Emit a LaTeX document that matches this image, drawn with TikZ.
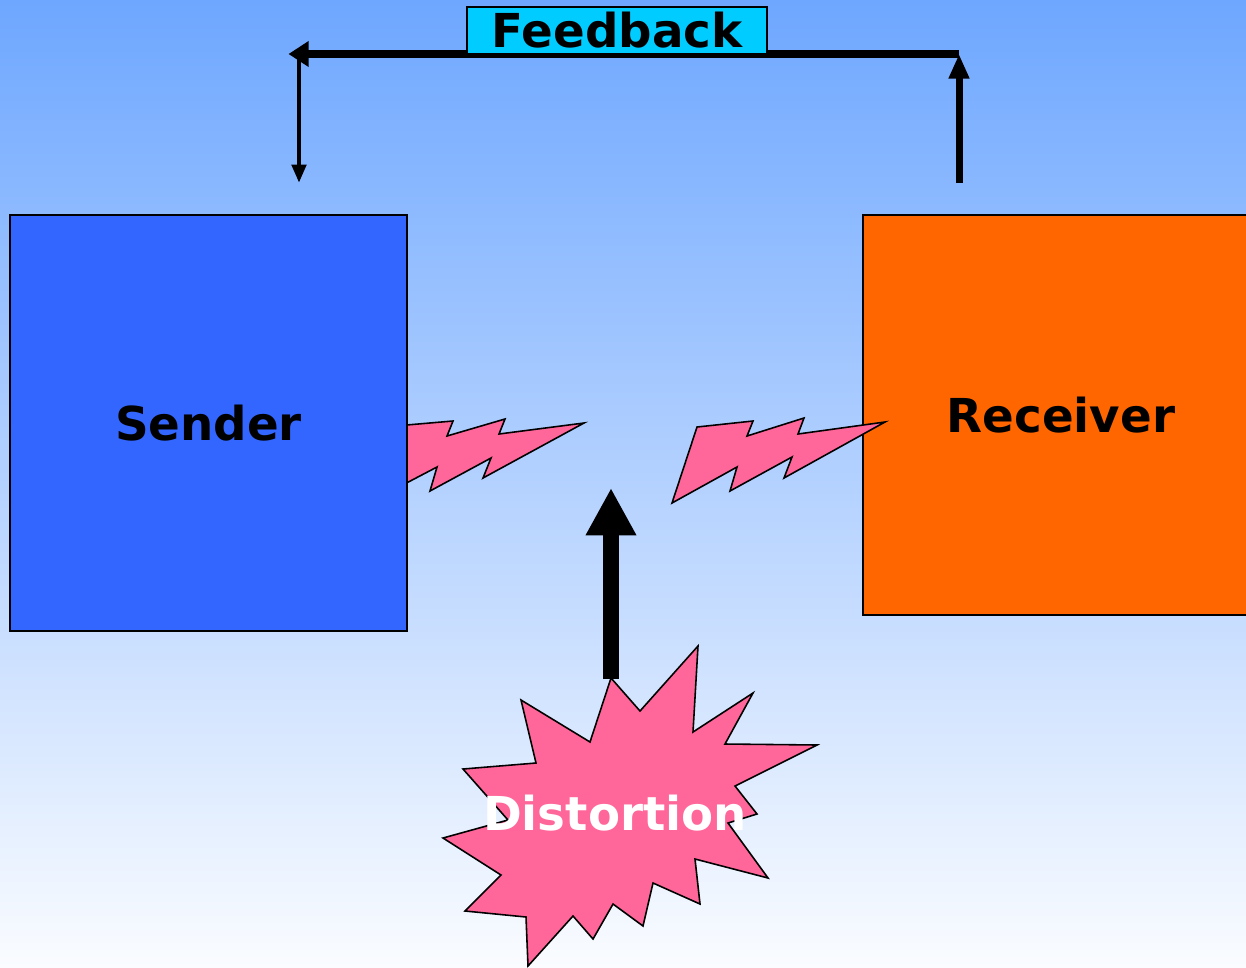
\documentclass[tikz,border=0pt]{standalone}
\usepackage{fontspec}
\setmainfont{DejaVu Sans}
\usepackage{xcolor}
\usepackage{tikz}
\usetikzlibrary{arrows.meta, positioning, calc}
\definecolor{skytop}{RGB}{110,167,255}
\definecolor{skybot}{RGB}{250,252,255}
\definecolor{sendblue}{RGB}{51,102,255}
\definecolor{recvorange}{RGB}{255,102,0}
\definecolor{fbcyan}{RGB}{0,204,255}
\definecolor{boltpink}{RGB}{255,102,153}
\tikzset{
  box/.style     = {rectangle, draw=black, line width=0.9pt, inner sep=0pt,
                    font=\bfseries\fontsize{26.6}{30}\selectfont},
  fbline/.style  = {line width=4pt, -{Triangle[length=11.5pt, width=14pt]}},
  bolt/.style    = {draw=black, fill=boltpink, line width=0.9pt, line join=miter},
}

\begin{document}
\begin{tikzpicture}[x=0.02cm, y=-0.02cm]

  % ---- background ----
  \clip (0,0) rectangle (1246,967);
  \shade[top color=skytop, bottom color=skybot] (0,0) rectangle (1246,967);

  % ---- bolts (left one sits behind the sender) ----
  \draw[bolt] (395,426) -- (453,421) -- (447,436) -- (505,419) -- (499,434)
        -- (584,423) -- (483,478) -- (491,458) -- (430,491) -- (437,467)
        -- (395,489) -- cycle;

  % ---- sender / receiver ----
  \node[box, fill=sendblue, minimum width=7.94cm, minimum height=8.32cm]
        (sender) at (208.5,423) {Sender};
  \node[box, fill=recvorange, minimum width=7.92cm, minimum height=8.0cm]
        (receiver) at (1061,415) {Receiver};

  \draw[bolt] (672,503) -- (697,427) -- (753,421) -- (747,436) -- (804,418)
        -- (798,434) -- (885,422) -- (784,478) -- (792,457) -- (730,491)
        -- (737,467) -- cycle;

  % ---- distortion ----
  \draw[bolt] (611,678) -- (640,711) -- (698,646) -- (693,732) -- (753,693)
        -- (725,744) -- (817,745) -- (735,786) -- (757,814) -- (728,823)
        -- (768,878) -- (695,859) -- (700,904) -- (653,883) -- (643,926)
        -- (613,904) -- (593,939) -- (573,916) -- (528,966) -- (526,917)
        -- (465,911) -- (501,875) -- (443,838) -- (508,820) -- (463,769)
        -- (536,763) -- (521,700) -- (590,742) -- cycle;
  \node[font=\bfseries\fontsize{26.6}{30}\selectfont, text=white]
        (dist) at (615,813) {Distortion};

  \coordinate (noiseTop) at (611,488);
  \coordinate (noiseBot) at (611,679);
  \draw[line width=9pt, -{Triangle[length=27pt, width=27pt]}]
        (noiseBot) -- (noiseTop);

  % ---- feedback loop ----
  \coordinate (fbR)  at (959,183);
  \coordinate (fbTR) at (959,54);
  \coordinate (fbTL) at (299,54);
  \coordinate (fbL)  at (299,183);
  \draw[fbline, -{Triangle[length=14pt, width=11pt]}] (fbR) -- (fbTR);
  \draw[fbline] (fbTR) -- ([xshift=-6] fbTL);
  \draw[line width=2.8pt, -{Triangle[length=10.5pt, width=8pt]}]
        ([yshift=-2] fbTL) -- (fbL);

  \node[box, fill=fbcyan, minimum width=6cm, minimum height=0.94cm]
        (fb) at (617,30.5) {Feedback};

\end{tikzpicture}
\end{document}
